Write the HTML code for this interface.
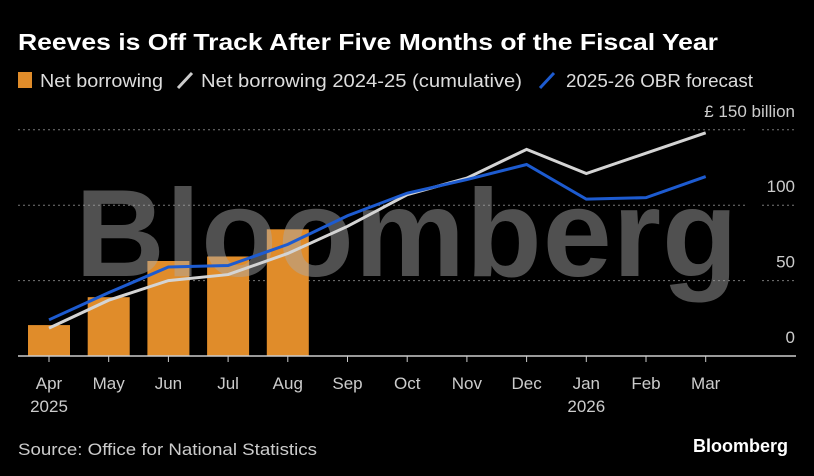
<!DOCTYPE html>
<html><head><meta charset="utf-8"><style>
body{margin:0;background:#000;width:814px;height:476px;overflow:hidden;font-family:"Liberation Sans",sans-serif;color:#fff}
</style></head><body>
<svg width="814" height="476" style="position:absolute;left:0;top:0">
<text x="18" y="50" font-size="23" font-weight="bold" fill="#fff" textLength="700" lengthAdjust="spacingAndGlyphs">Reeves is Off Track After Five Months of the Fiscal Year</text>
<g font-size="18" fill="#ddd">
<rect x="18" y="72" width="14" height="16" fill="#e08c2a"/>
<text x="40" y="87" textLength="123" lengthAdjust="spacingAndGlyphs">Net borrowing</text>
<line x1="178" y1="88" x2="192" y2="73" stroke="#ccc" stroke-width="3"/>
<text x="201" y="87" textLength="321" lengthAdjust="spacingAndGlyphs">Net borrowing 2024-25 (cumulative)</text>
<line x1="540" y1="88" x2="554" y2="73" stroke="#1d5bd0" stroke-width="3"/>
<text x="566" y="87" textLength="187" lengthAdjust="spacingAndGlyphs">2025-26 OBR forecast</text>
</g>
<g id="grid"></g><g id="bars"></g>
<text x="407" y="276" text-anchor="middle" font-size="124" font-weight="bold" letter-spacing="1" fill="rgba(170,170,170,0.47)">Bloomberg</text>
<g id="lines"></g><g id="axis"></g>
<text x="18" y="455" font-size="17" fill="#ccc" textLength="299" lengthAdjust="spacingAndGlyphs">Source: Office for National Statistics</text>
<text x="788" y="452" text-anchor="end" font-size="18" font-weight="bold" fill="#fff">Bloomberg</text>
</svg>
<script>
const months=["Apr","May","Jun","Jul","Aug","Sep","Oct","Nov","Dec","Jan","Feb","Mar"];
const yearLabels=["2025","","","","","","","","","2026","",""];
const netBorrowing=[20.5,39,63,66,84];
const prior=[18.5,37,50,54,68,86,107,118,137,121,134.5,148];
const obr=[24,42,59,60,74,93,108,117,127,104,105,119];
const yTicks=[0,50,100,150];
const NS="http://www.w3.org/2000/svg";
const x=i=>49+i*59.7;
const y=v=>356-v*1.508;
function mk(t,a,p){const e=document.createElementNS(NS,t);for(const k in a)e.setAttribute(k,a[k]);p.appendChild(e);return e;}
const grid=document.getElementById('grid'),bars=document.getElementById('bars'),lines=document.getElementById('lines'),axis=document.getElementById('axis');
yTicks.forEach(t=>{
 if(t>0){
  let g=mk('line',{x1:18,x2:748,y1:y(t),y2:y(t),stroke:'#777','stroke-dasharray':'2,3'},grid);
  
  
  let g2=mk('line',{x1:762,x2:796,y1:y(t),y2:y(t),stroke:'#777','stroke-dasharray':'2,3'},grid);
  
  
 }
 let l=mk('text',{x:795,y:y(t)-13,'text-anchor':'end','font-size':17,fill:'#ccc'},axis);
 l.textContent=t===150?'£ 150 billion':String(t);
 
 
});
netBorrowing.forEach((v,i)=>{
 let r=mk('rect',{x:x(i)-21,y:y(v),width:42,height:y(0)-y(v),fill:'#e08c2a'},bars);
 
 
});
function line(d,c,n){
 let p=mk('polyline',{points:d.map((v,i)=>x(i)+','+y(v)).join(' '),fill:'none',stroke:c,'stroke-width':3,'stroke-linejoin':'miter'},lines);
 
 
}
line(prior,'#d4d4d4','line-2024-25');
line(obr,'#1d5bd0','line-obr-forecast');
let ax=mk('line',{x1:18,x2:796,y1:356,y2:356,stroke:'#ccc','stroke-width':1.5},axis);


months.forEach((m,i)=>{
 let t=mk('line',{x1:x(i),x2:x(i),y1:356,y2:362,stroke:'#ccc'},axis);
 
 
 let l=mk('text',{x:x(i),y:389,'text-anchor':'middle','font-size':17,fill:'#ccc'},axis);
 l.textContent=m;
 
 
 if(yearLabels[i]){
  let yl=mk('text',{x:x(i),y:412,'text-anchor':'middle','font-size':17,fill:'#ccc'},axis);
  yl.textContent=yearLabels[i];
  
  
 }
});
</script>
</body></html>
